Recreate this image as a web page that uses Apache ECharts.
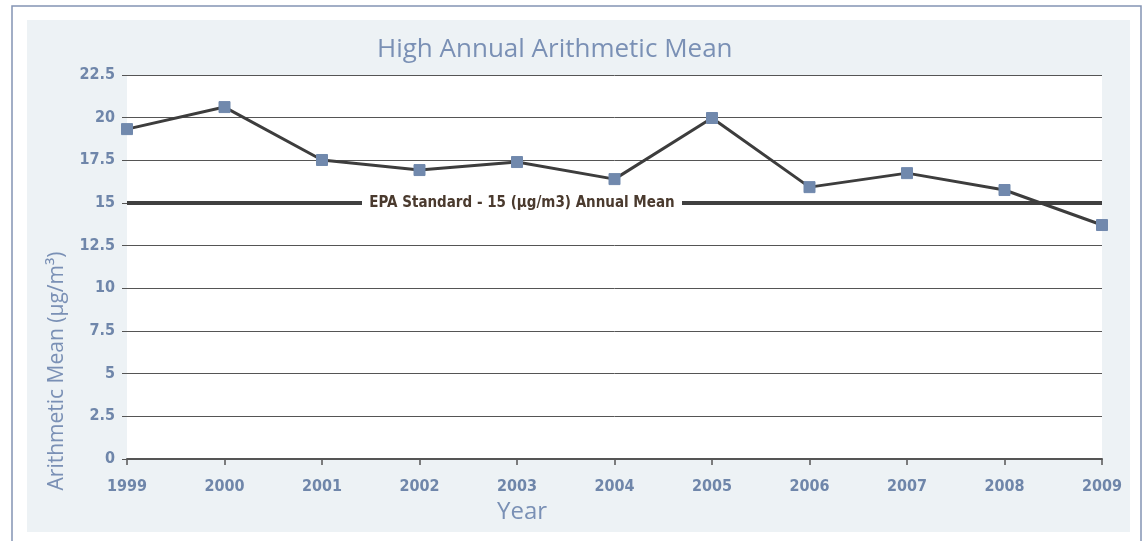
<!DOCTYPE html>
<html><head><meta charset="utf-8">
<script src="https://cdn.jsdelivr.net/npm/echarts@6/dist/echarts.min.js"></script>
<style>html,body{margin:0;padding:0;background:#fff}#c{width:1148px;height:541px}</style>
</head><body><div id="c"></div>
<script>
const years = ['1999','2000','2001','2002','2003','2004','2005','2006','2007','2008','2009'];
const meanValues = [19.33, 20.62, 17.52, 16.93, 17.4, 16.4, 19.98, 15.93, 16.75, 15.76, 13.71];
const epaStandard = 15;
const epaLabel = 'EPA Standard - 15 (µg/m3) Annual Mean';
const titleText = 'High Annual Arithmetic Mean';
const yAxisTitle = 'Arithmetic Mean (µg/m³)';
const xAxisTitle = 'Year';

const blue = '#7189ad';
const cond = '"Liberation Sans Narrow","DejaVu Sans Condensed","Open Sans",sans-serif';
const chart = echarts.init(document.getElementById('c'));
chart.setOption({
  animation: false,
  backgroundColor: '#fff',
  title: { text: titleText, left: 372, top: 32,
    textStyle: { color: '#7a90b5', fontSize: 26, fontWeight: 'normal', fontFamily: '"Open Sans",sans-serif' } },
  grid: { left: 127, right: 46, top: 75, bottom: 82, show: true, backgroundColor: '#fff', borderWidth: 0, containLabel: false },
  xAxis: { type: 'category', data: years, boundaryGap: false,
    axisLine: { lineStyle: { color: '#555', width: 2 } },
    axisTick: { show: true, length: 6, lineStyle: { color: '#555', width: 1.5 } },
    axisLabel: { color: '#6f86aa', fontSize: 16, fontWeight: 'bold', fontFamily: cond, margin: 20 },
    name: xAxisTitle, nameLocation: 'middle', nameGap: 40,
    nameTextStyle: { color: '#7a90b5', fontSize: 24, fontFamily: '"Open Sans",sans-serif', padding: [0, 185, 0, 0] } },
  yAxis: { type: 'value', min: 0, max: 22.5, interval: 2.5,
    axisLine: { show: false },
    axisTick: { show: true, length: 5, lineStyle: { color: '#555' } },
    splitLine: { lineStyle: { color: '#555', width: 1 } },
    axisLabel: { color: '#6f86aa', fontSize: 16, fontWeight: 'bold', fontFamily: cond, margin: 12 } },
  series: [{
    type: 'line', data: meanValues, symbol: 'rect', symbolSize: 11,
    lineStyle: { color: '#3d3d3d', width: 3 },
    itemStyle: { color: blue, borderColor: blue },
    z: 5,
    markLine: { silent: true, symbol: 'none', label: { show: false },
      lineStyle: { color: '#404040', width: 4, type: 'solid' },
      data: [{ yAxis: epaStandard }] }
  }]
});
const p = chart.convertToPixel({ gridIndex: 0 }, ['2003', epaStandard]);
chart.setOption({
  graphic: [
    { type: 'rect', z: -10, silent: true, shape: { x: 12, y: 6, width: 1129, height: 560 },
      style: { fill: '#fff', stroke: '#8494b4', lineWidth: 1.5 } },
    { type: 'rect', z: -9, silent: true, shape: { x: 27, y: 20, width: 1103, height: 512 },
      style: { fill: '#edf2f5' } },
    { type: 'rect', z: 100, silent: true, shape: { x: p[0] + 5 - 160, y: p[1] - 10, width: 320, height: 20 },
      style: { fill: '#fff' } },
    { type: 'text', z: 101, silent: true, x: p[0] + 5, y: p[1],
      style: { text: epaLabel, align: 'center', verticalAlign: 'middle',
        fill: '#4a3a2e', fontSize: 15, fontWeight: 'bold', fontFamily: cond } },
    { type: 'text', z: 100, x: 57, y: 371, rotation: Math.PI / 2,
      style: { text: yAxisTitle, align: 'center', verticalAlign: 'middle', fill: '#7a90b5',
        fontSize: 21, fontFamily: '"Open Sans",sans-serif' } }
  ]
});
</script></body></html>
